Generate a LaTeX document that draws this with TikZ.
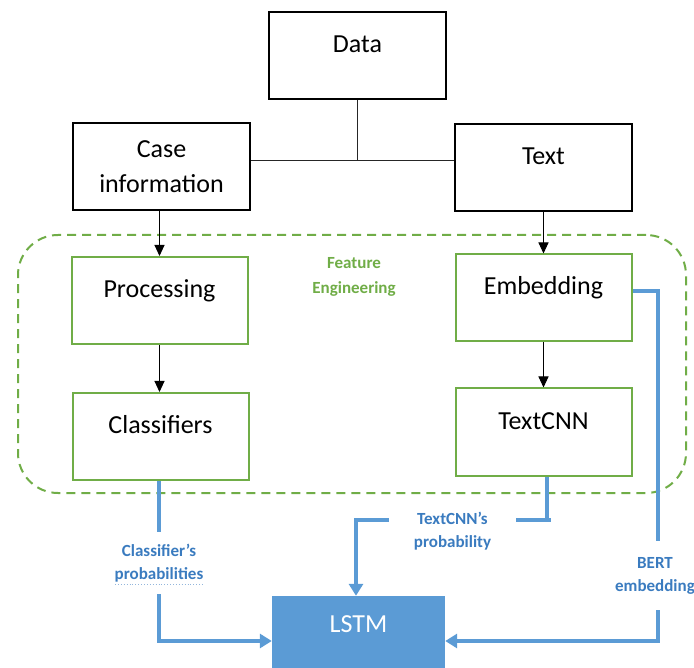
\documentclass[tikz,border=0pt]{standalone}
\usepackage{fontspec}
\setmainfont{Carlito}
\usetikzlibrary{arrows.meta,calc}
\definecolor{fegreen}{HTML}{70AD47}
\definecolor{lineblue}{HTML}{5B9BD5}
\definecolor{lblblue}{HTML}{3A7BBF}
\begin{document}
\begin{tikzpicture}[x=1pt,y=-1pt,
  blackbox/.style={draw=black,line width=2pt,minimum width=177pt,minimum height=87pt,inner sep=0pt,
    font=\fontsize{26}{30}\selectfont,text height=16.5pt,text depth=22.5pt},
  casebox/.style={draw=black,line width=2pt,minimum width=177pt,minimum height=87pt,inner sep=0pt,
    align=center,font=\fontsize{26}{35}\selectfont},
  greenbox/.style={draw=fegreen,line width=2pt,minimum width=176pt,minimum height=87pt,inner sep=0pt,
    font=\fontsize{26}{30}\selectfont,text height=16.5pt,text depth=22.5pt},
  fearea/.style={draw=fegreen,line width=2pt,dash pattern=on 9pt off 6pt,rounded corners=40pt,
    minimum width=668pt,minimum height=258pt,inner sep=0pt},
  felabel/.style={text=fegreen,align=center,font=\bfseries\fontsize{17}{25}\selectfont},
  lstmbox/.style={fill=lineblue,minimum width=173pt,minimum height=72pt,inner sep=0pt,text=white,
    font=\fontsize{26}{30}\selectfont,text height=16.5pt,text depth=16.5pt},
  bluelbl/.style={text=lblblue,align=center,inner sep=0pt,font=\bfseries\fontsize{17}{23}\selectfont},
  thinline/.style={draw=black!85,line width=1pt},
  blackarrow/.style={draw=black,line width=1pt,-{Triangle[width=10pt,length=11pt]}},
  blueline/.style={draw=lineblue,line width=3.5pt},
  bluearrow/.style={draw=lineblue,line width=3.5pt,-{Triangle[width=14pt,length=12pt]}}
]
\useasboundingbox (0,0) rectangle (694,668);

% boxes
\node[blackbox] (data) at (357.5,55.5) {Data};
\node[casebox] (case) at (161.5,167) {Case\\information};
\node[blackbox] (text) at (543.5,167.5) {Text};
\node[fearea] (fe) at (352,364) {};
\node[felabel] (felab) at (354,276.5) {Feature\\Engineering};
\node[greenbox] (proc) at (159.5,300.5) {Processing};
\node[greenbox] (clf) at (160.5,436.5) {Classifiers};
\node[greenbox] (emb) at (543.5,298) {Embedding};
\node[greenbox] (tcnn) at (543.5,432) {TextCNN};
\node[lstmbox] (lstm) at (358.5,632) {LSTM};

% black connectors
\coordinate (j) at (357.5,161);
\draw[thinline] (data.south) -- (j);
\draw[thinline] (case.east |- j) -- (text.west |- j);
\draw[blackarrow] (proc.north |- case.south) -- (proc.north);
\draw[blackarrow] (emb.north |- text.south) -- (emb.north);
\draw[blackarrow] (proc.south) -- (proc.south |- clf.north);
\draw[blackarrow] (emb.south) -- (emb.south |- tcnn.north);

% blue connectors
\coordinate (lstmy) at (0,641);

% classifiers
\node[bluelbl,minimum height=62pt] (clflab) at (159,563) {Classifier’s\\probabilities};
\draw[lblblue!55,dotted,line width=0.9pt] ([xshift=-44pt,yshift=-21pt]clflab.center) -- ([xshift=44pt,yshift=-21pt]clflab.center);
\draw[blueline] (clf.south -| clflab.north) -- (clflab.north);
\draw[bluearrow] (clflab.south) -- (clflab.south |- lstmy) -- (lstm.west |- lstmy);

% textcnn
\coordinate (tbar) at (547,520);
\coordinate (tdown) at (356,520);
\node[bluelbl,minimum width=127pt] (tclab) at (452.5,531) {TextCNN’s\\probability};
\draw[blueline] (tcnn.south -| tbar) -- (tbar);
\draw[blueline] (tclab.east |- tbar) -- ([xshift=4pt]tbar);
\draw[bluearrow] (tclab.west |- tbar) -- (tdown) -- (tdown |- lstm.north);

% bert
\coordinate (bturn) at (658,291);
\node[bluelbl,minimum height=69pt] (bertlab) at (655,575.5) {BERT\\embedding};
\draw[blueline] (emb.east |- bturn) -- (bturn) -- (bturn |- bertlab.north);
\draw[bluearrow] (bturn |- bertlab.south) -- (bturn |- lstmy) -- (lstm.east |- lstmy);
\end{tikzpicture}
\end{document}
